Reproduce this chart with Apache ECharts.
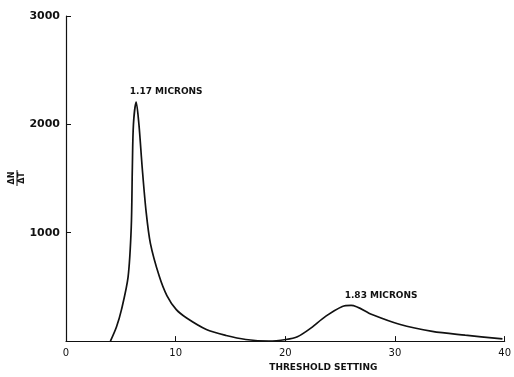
<!DOCTYPE html>
<html>
<head>
<meta charset="utf-8">
<script src="https://cdn.jsdelivr.net/npm/echarts@6/dist/echarts.min.js"></script>
<style>
  html, body { margin: 0; padding: 0; background: #fff; }
  #chart { width: 514px; height: 377px; }
</style>
</head>
<body>
<div id="chart"></div>
<script>
// threshold setting vs dN/dT
const thresholds = [4.05, 4.6, 5.06, 5.66, 5.95, 6.05, 6.15, 6.4, 6.65, 6.95, 7.3, 7.7, 8.5, 9.2,
  10.06, 11.0, 12.8, 14.6, 16.4, 18.5, 20.06, 21.1, 22.2, 23.7, 25.2, 26.0, 27.9, 30.4, 33.4, 36.4, 39.8]
const counts = [0, 130, 290, 590, 1050, 1600, 2000, 2205, 2000, 1600, 1200, 900, 600, 420,
  290, 213, 107, 52, 15, 0, 15, 40, 110, 230, 320, 330, 245, 155, 90, 55, 20]

const peakLabels = ['1.17 MICRONS', '1.83 MICRONS']
const peakX = [6.4, 26.0]
const peakY = [2205, 330]

const xTicks = [0, 10, 20, 30, 40]
const yTicks = [1000, 2000, 3000]

const chart = echarts.init(document.getElementById('chart'))

const ink = '#111'
const font = 'DejaVu Sans'

chart.setOption({
  animation: false,
  grid: { left: 66, right: 8, top: 16, bottom: 31 },
  xAxis: {
    type: 'value',
    min: 0,
    max: 40,
    interval: 10,
    name: 'THRESHOLD SETTING',
    nameLocation: 'middle',
    nameGap: 20,
    nameTextStyle: { color: ink, fontFamily: font, fontWeight: 'bold', fontSize: 9, padding: [0, 0, 0, 76] },
    axisLine: { lineStyle: { color: ink, width: 1.2 } },
    axisTick: { inside: true, length: 5, lineStyle: { color: ink } },
    axisLabel: {
      color: ink, fontFamily: font, fontSize: 10, margin: 7,
      formatter: v => xTicks.includes(v) ? String(v) : ''
    },
    splitLine: { show: false }
  },
  yAxis: {
    type: 'value',
    min: 0,
    max: 3000,
    interval: 1000,
    axisLine: { show: true, lineStyle: { color: ink, width: 1.2 } },
    axisTick: { show: true, inside: true, length: 5, lineStyle: { color: ink } },
    axisLabel: {
      color: ink, fontFamily: font, fontSize: 11, fontWeight: 'bold', margin: 6,
      formatter: v => yTicks.includes(v) ? String(v) : ''
    },
    splitLine: { show: false }
  },
  series: [{
    type: 'line',
    data: thresholds.map((t, i) => [t, counts[i]]),
    showSymbol: false,
    smooth: 0.3,
    lineStyle: { color: ink, width: 1.7 },
    markPoint: {
      symbol: 'circle',
      symbolSize: 0,
      label: {
        show: true,
        position: 'inside',
        offset: [30, -10],
        color: ink,
        fontFamily: font,
        fontWeight: 'bold',
        fontSize: 9,
        formatter: p => p.name
      },
      data: peakLabels.map((n, i) => ({ name: n, coord: [peakX[i], peakY[i]] }))
    }
  }],
  graphic: [{
    type: 'group',
    x: 17,
    y: 178,
    rotation: Math.PI / 2,
    children: [
      { type: 'text', x: 0, y: -5, style: { text: 'ΔN', align: 'center', verticalAlign: 'middle', font: 'bold 8px DejaVu Sans', fill: ink } },
      { type: 'line', shape: { x1: -8, y1: 0, x2: 8, y2: 0 }, style: { stroke: ink, lineWidth: 1 } },
      { type: 'text', x: 0, y: 5, style: { text: 'ΔT', align: 'center', verticalAlign: 'middle', font: 'bold 8px DejaVu Sans', fill: ink } }
    ]
  }]
})

window.addEventListener('resize', () => chart.resize())
</script>
</body>
</html>
